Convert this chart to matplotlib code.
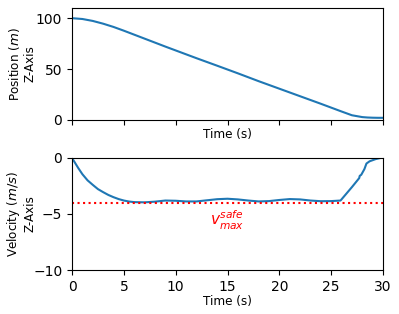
import matplotlib
matplotlib.use("Agg")
import matplotlib.pyplot as plt

# Position samples (time s, position m)
pos_t = [0, 1, 2, 3, 4, 5, 6, 7, 8, 9, 10, 12, 14, 16, 18, 20, 22, 24, 25, 26, 27, 28, 28.5, 29, 29.5, 30]
pos_z = [100, 99.2, 97.3, 94.6, 91.4, 87.7, 83.8, 79.9, 76.0, 72.1, 68.3, 60.7, 53.3, 45.8, 38.1, 30.7, 23.3, 15.9, 12.1, 8.3, 4.6, 2.8, 2.4, 2.2, 2.1, 2.1]

# Velocity samples (time s, velocity m/s)
vel_t = [0, 0.6, 1, 1.5, 2, 2.5, 3, 3.5, 4, 4.5, 5, 5.5, 6, 7, 8, 9, 10, 11, 12, 13, 14, 15, 16, 17, 18, 19, 20, 21, 22, 23, 24, 25, 25.9,
         27.0, 27.7, 27.75, 27.9, 28.2, 28.4, 28.7, 29.3, 30]
vel_v = [0, -0.9, -1.45, -2.0, -2.4, -2.78, -3.05, -3.3, -3.5, -3.67, -3.8, -3.89, -3.94, -3.96, -3.9, -3.8, -3.82, -3.88, -3.88, -3.78, -3.68, -3.64, -3.7, -3.8, -3.88, -3.85, -3.75, -3.67, -3.7, -3.8, -3.86, -3.85, -3.8,
         -2.6, -1.8, -1.6, -1.5, -1.0, -0.5, -0.3, -0.1, 0.05]

v_safe = -4.03
x_ticks = [0, 5, 10, 15, 20, 25, 30]

plt.rcParams["font.size"] = 10
lab = dict(fontsize=9.5, fontstretch="condensed")
fig = plt.figure(figsize=(3.99, 3.14), dpi=100)
ax1 = fig.add_axes([0.1805, 0.618, 0.7795, 0.3565])
ax2 = fig.add_axes([0.1805, 0.140, 0.7795, 0.357])

ax1.plot(pos_t, pos_z, color="C0", lw=1.5)
ax1.set_xlim(0, 30)
ax1.set_ylim(0, 110)
ax1.set_yticks([0, 50, 100])
ax1.set_xticks(x_ticks)
ax1.tick_params(labelbottom=False)
ax1.set_xlabel("Time (s)", labelpad=2, **lab)
ax1.set_ylabel("Position ($m$)\nZ-Axis", **lab)
ax1.yaxis.set_label_coords(-0.113, 0.5)

ax2.plot(vel_t, vel_v, color="C0", lw=1.5)
ax2.axhline(v_safe, color="red", ls=":", lw=1.5)
ax2.text(15, -5.6, "$v_{max}^{safe}$", color="red", ha="center", va="center", fontsize=11)
ax2.set_xlim(0, 30)
ax2.set_ylim(-10, 0)
ax2.set_yticks([0, -5, -10])
ax2.set_xticks(x_ticks)
ax2.set_xlabel("Time (s)", labelpad=1, **lab)
ax2.set_ylabel("Velocity ($m/s$)\nZ-Axis", **lab)
ax2.yaxis.set_label_coords(-0.113, 0.5)

fig.savefig("out.png", dpi=100)
